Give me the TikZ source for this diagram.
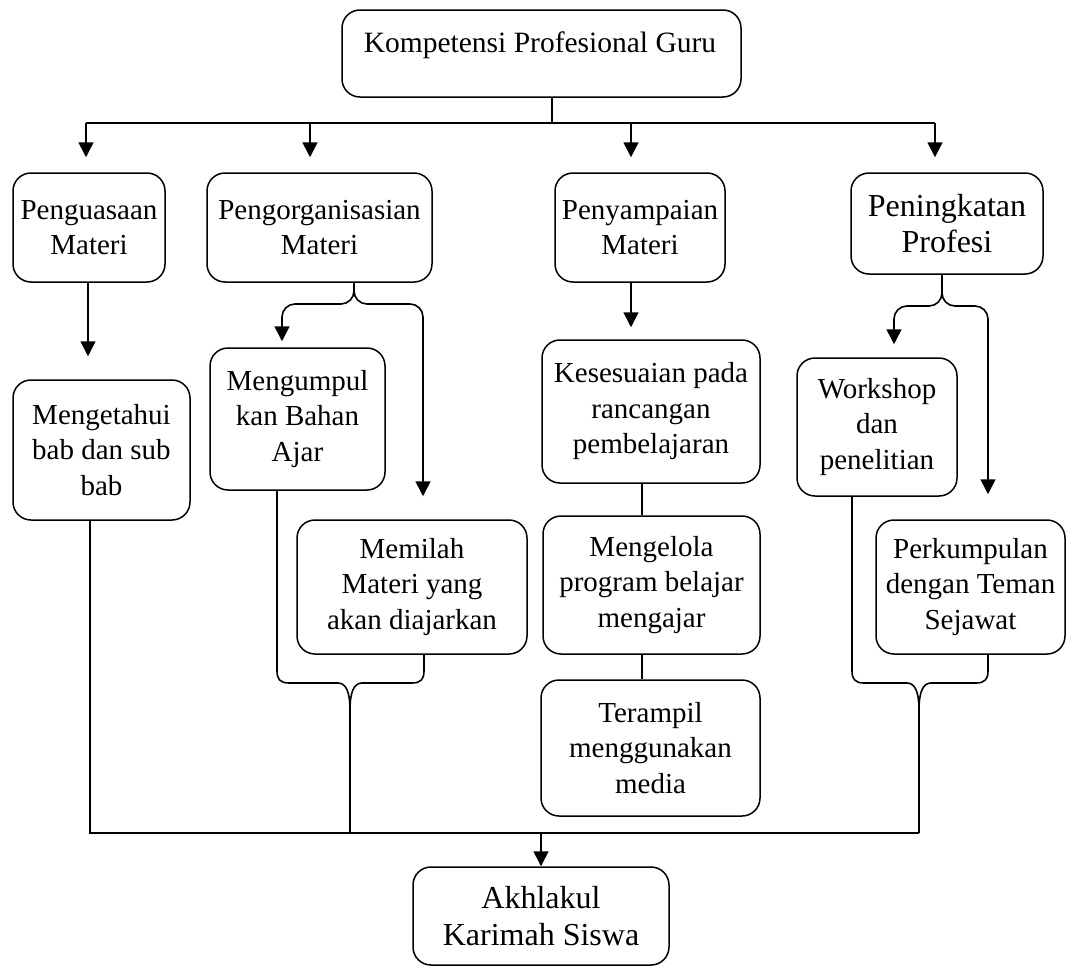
\documentclass[tikz,border=0pt]{standalone}
\usepackage{fontspec}
\setmainfont{Liberation Serif}
\usetikzlibrary{arrows.meta}
\begin{document}
\begin{tikzpicture}[x=1pt,y=-1pt,
  rbox/.style={draw, line width=1.5pt, rounded corners=18pt, align=center, inner sep=0pt, font=\fontsize{29}{35.5}\selectfont},
  bigbox/.style={rbox, font=\fontsize{32}{36.5}\selectfont},
  conn/.style={line width=1.6pt},
  arr/.style={conn, -{Triangle[length=15pt,width=15pt]}},
  txt/.style={inner sep=0pt, font=\fontsize{29.5}{35.5}\selectfont}]
\useasboundingbox (0,0) rectangle (1077,977);
% boxes
\node[rbox, minimum width=399pt, minimum height=87pt] (top) at (541.5,53.5) {};
\node[txt] (toptxt) at (540,45) {Kompetensi Profesional Guru};
\node[rbox, minimum width=152pt, minimum height=109pt] (pengu) at (89,227.5) {Penguasaan\\Materi};
\node[rbox, minimum width=225pt, minimum height=109pt] (pengo) at (319.5,227.5) {Pengorganisasian\\Materi};
\node[rbox, minimum width=170pt, minimum height=109pt] (penya) at (640,227.5) {Penyampaian\\Materi};
\node[bigbox, minimum width=192pt, minimum height=101pt] (pening) at (947,223.5) {Peningkatan\\Profesi};
\node[rbox, minimum width=177pt, minimum height=140pt] (menget) at (101.5,450) {Mengetahui\\bab dan sub\\bab};
\node[rbox, minimum width=175pt, minimum height=142pt] (mengum) at (297.5,419) {Mengumpul\\kan Bahan\\Ajar};
\node[rbox, minimum width=230pt, minimum height=134pt] (memilah) at (412,587) {Memilah\\Materi yang\\akan diajarkan};
\node[rbox, minimum width=218pt, minimum height=143pt] (kesesu) at (651,411.5) {Kesesuaian pada\\rancangan\\pembelajaran};
\node[rbox, minimum width=217pt, minimum height=138pt] (mengel) at (651.5,585) {Mengelola\\program belajar\\mengajar};
\node[rbox, minimum width=219pt, minimum height=136pt] (teramp) at (650.5,748) {Terampil\\menggunakan\\media};
\node[rbox, minimum width=160pt, minimum height=138pt] (worksh) at (877,427) {Workshop\\dan\\penelitian};
\node[rbox, minimum width=189pt, minimum height=134pt] (perkum) at (970.5,587) {Perkumpulan\\dengan Teman\\Sejawat};
\node[bigbox, minimum width=256pt, minimum height=98pt] (akhlak) at (541,916) {Akhlakul\\Karimah Siswa};
% top bus
\draw[conn] (552,0 |- top.south) -- (552,123);
\draw[conn] (86,123) -- (935,123);
\foreach \x/\n in {86/pengu,310/pengo,631/penya,935/pening}
  \draw[arr] (\x,123) -- ([yshift=15pt]\x,0 |- \n.north);
% Penguasaan
\draw[arr] (88,0 |- pengu.south) -- ([yshift=23pt]88,0 |- menget.north);
% Pengorganisasian brace
\draw[arr, rounded corners=13pt] (354,0 |- pengo.south) -- (354,304) -- (282,304) -- ([yshift=6pt]282,0 |- mengum.north);
\draw[arr, rounded corners=13pt] (354,0 |- pengo.south) -- (354,304) -- (423,304) -- ([yshift=23pt]423,0 |- memilah.north);
% Penyampaian chain
\draw[arr] (631,0 |- penya.south) -- ([yshift=12pt]631,0 |- kesesu.north);
\draw[conn] (642,0 |- kesesu.south) -- (642,0 |- mengel.north);
\draw[conn] (642,0 |- mengel.south) -- (642,0 |- teramp.north);
% Peningkatan brace
\draw[arr, rounded corners=13pt] (942,0 |- pening.south) -- (942,306) -- (894,306) -- ([yshift=13pt]894,0 |- worksh.north);
\draw[arr, rounded corners=13pt] (942,0 |- pening.south) -- (942,306) -- (988,306) -- ([yshift=25pt]988,0 |- perkum.north);
% bottom braces
\draw[conn] (277,0 |- mengum.south) -- (277,671) .. controls (277,679) and (280,683) .. (289,683) -- (338,683) .. controls (346,683) and (350,692) .. (350,710) -- (350,833);
\draw[conn] (424,0 |- memilah.south) -- (424,671) .. controls (424,679) and (421,683) .. (412,683) -- (362,683) .. controls (354,683) and (350,692) .. (350,710);
\draw[conn] (852,0 |- worksh.south) -- (852,671) .. controls (852,679) and (855,683) .. (864,683) -- (907,683) .. controls (915,683) and (919,692) .. (919,710) -- (919,833);
\draw[conn] (988,0 |- perkum.south) -- (988,671) .. controls (988,679) and (985,683) .. (976,683) -- (931,683) .. controls (923,683) and (919,692) .. (919,710);
% bottom bus
\draw[conn] (90,0 |- menget.south) -- (90,833) -- (919,833);
\draw[arr] (541,833) -- (541,0 |- akhlak.north);
\end{tikzpicture}
\end{document}
